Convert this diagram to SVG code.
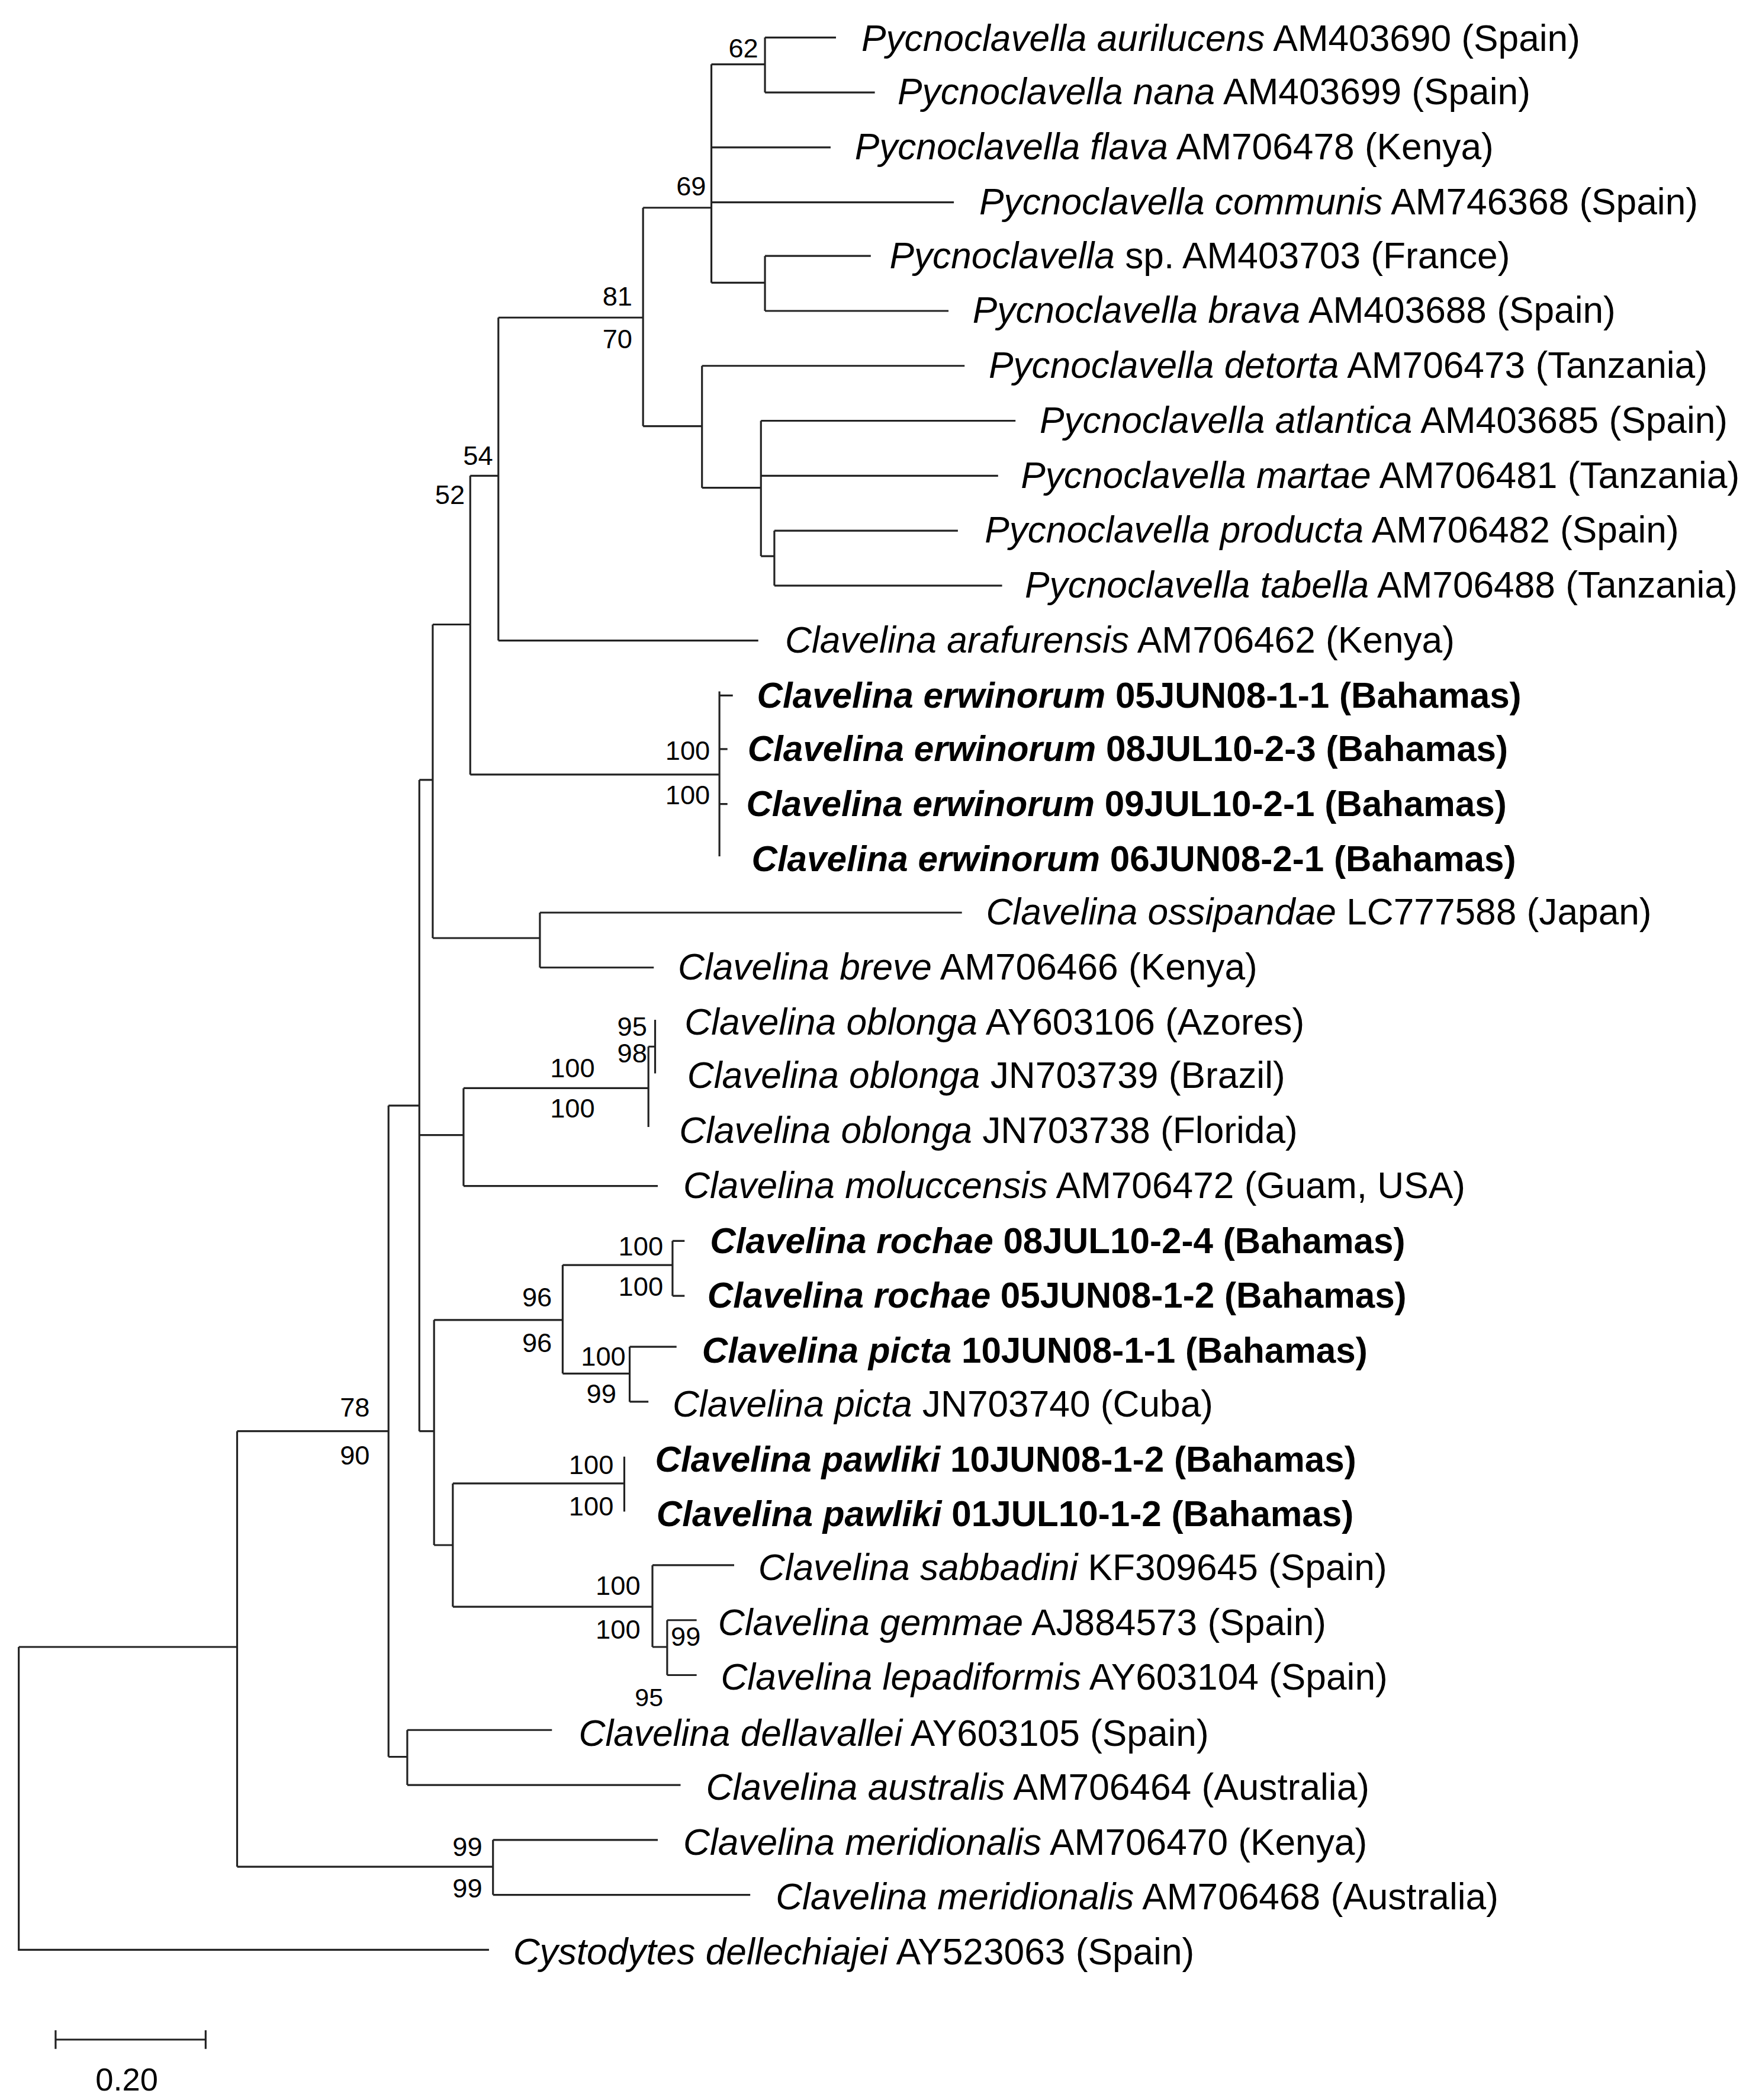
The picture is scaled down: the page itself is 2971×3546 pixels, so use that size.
<svg xmlns="http://www.w3.org/2000/svg" width="2971" height="3546" viewBox="0 0 2971 3546">
<style>
.l{font-family:"Liberation Sans",Arial,sans-serif;font-size:27.5px;fill:#000}
.b{font-weight:bold;font-size:26.6px}
.i{font-style:italic}
.n{font-family:"Liberation Sans",Arial,sans-serif;font-size:20px;fill:#000;text-anchor:end}
.e{fill:none;stroke:#222;stroke-width:1.4}
</style>
<rect width="2971" height="3546" fill="#fff"/>
<g transform="scale(2.2628)">
<g id="connectors" class="e">
<path d="M14 1229V1455H365M14 1229H177"/>
<path d="M177 1068V1393M177 1068H290M177 1393H368"/>
<path d="M368 1373V1414M368 1373H491M368 1414H560"/>
<path d="M290 825V1311M290 825H313M290 1311H304"/>
<path d="M304 1291V1332M304 1291H412M304 1332H508"/>
<path d="M313 582V1068M313 582H323M313 847H346M313 1068H324"/>
<path d="M323 466V700M323 466H351M323 700H403"/>
<path d="M403 681V722M403 681H718M403 722H488"/>
<path d="M351 355V578M351 355H372M351 578H537"/>
<path d="M537 516V639M537 519H547M537 559H543M537 600H543"/>
<path d="M372 237V478M372 237H480M372 478H566"/>
<path d="M480 155V318M480 155H531M480 318H524"/>
<path d="M531 48V211M531 48H571M531 110H620M531 151H712M531 211H571"/>
<path d="M571 28V69M571 28H624M571 69H653"/>
<path d="M571 191V232M571 191H650M571 232H708"/>
<path d="M524 273V364M524 273H720M524 364H568"/>
<path d="M568 314V415M568 314H758M568 355H745M568 415H578"/>
<path d="M578 396V437M578 396H715M578 437H748"/>
<path d="M346 812V885M346 812H484M346 885H491"/>
<path d="M484 781V841M484 781H489"/>
<path d="M489 761V801"/>
<path d="M324 985V1153M324 985H420M324 1153H338"/>
<path d="M420 944V1025M420 944H502M420 1025H470"/>
<path d="M502 926V967M502 926H511M502 967H511"/>
<path d="M470 1005V1046M470 1005H505M470 1046H484"/>
<path d="M338 1107V1199M338 1107H466M338 1199H487"/>
<path d="M466 1087V1128"/>
<path d="M487 1168V1229M487 1168H548M487 1229H498"/>
<path d="M498 1209V1250M498 1209H520M498 1250H520"/>
<path d="M41.5 1522H153.5M41.5 1515V1529M153.5 1515V1529"/>
</g>
<g id="leaves" class="l">
<text x="643" y="38"><tspan class="i">Pycnoclavella aurilucens</tspan> AM403690 (Spain)</text>
<text x="670" y="78"><tspan class="i">Pycnoclavella nana</tspan> AM403699 (Spain)</text>
<text x="638" y="119"><tspan class="i">Pycnoclavella flava</tspan> AM706478 (Kenya)</text>
<text x="731" y="160"><tspan class="i">Pycnoclavella communis</tspan> AM746368 (Spain)</text>
<text x="664" y="200"><tspan class="i">Pycnoclavella</tspan> sp. AM403703 (France)</text>
<text x="726" y="241"><tspan class="i">Pycnoclavella brava</tspan> AM403688 (Spain)</text>
<text x="738" y="282"><tspan class="i">Pycnoclavella detorta</tspan> AM706473 (Tanzania)</text>
<text x="776" y="323"><tspan class="i">Pycnoclavella atlantica</tspan> AM403685 (Spain)</text>
<text x="762" y="364"><tspan class="i">Pycnoclavella martae</tspan> AM706481 (Tanzania)</text>
<text x="735" y="405"><tspan class="i">Pycnoclavella producta</tspan> AM706482 (Spain)</text>
<text x="765" y="446"><tspan class="i">Pycnoclavella tabella</tspan> AM706488 (Tanzania)</text>
<text x="586" y="487"><tspan class="i">Clavelina arafurensis</tspan> AM706462 (Kenya)</text>
<text class="b" x="565" y="528"><tspan class="i">Clavelina erwinorum</tspan> 05JUN08-1-1 (Bahamas)</text>
<text class="b" x="558" y="568"><tspan class="i">Clavelina erwinorum</tspan> 08JUL10-2-3 (Bahamas)</text>
<text class="b" x="557" y="609"><tspan class="i">Clavelina erwinorum</tspan> 09JUL10-2-1 (Bahamas)</text>
<text class="b" x="561" y="650"><tspan class="i">Clavelina erwinorum</tspan> 06JUN08-2-1 (Bahamas)</text>
<text x="736" y="690"><tspan class="i">Clavelina ossipandae</tspan> LC777588 (Japan)</text>
<text x="506" y="731"><tspan class="i">Clavelina breve</tspan> AM706466 (Kenya)</text>
<text x="511" y="772"><tspan class="i">Clavelina oblonga</tspan> AY603106 (Azores)</text>
<text x="513" y="812"><tspan class="i">Clavelina oblonga</tspan> JN703739 (Brazil)</text>
<text x="507" y="853"><tspan class="i">Clavelina oblonga</tspan> JN703738 (Florida)</text>
<text x="510" y="894"><tspan class="i">Clavelina moluccensis</tspan> AM706472 (Guam, USA)</text>
<text class="b" x="530" y="935"><tspan class="i">Clavelina rochae</tspan> 08JUL10-2-4 (Bahamas)</text>
<text class="b" x="528" y="976"><tspan class="i">Clavelina rochae</tspan> 05JUN08-1-2 (Bahamas)</text>
<text class="b" x="524" y="1017"><tspan class="i">Clavelina picta</tspan> 10JUN08-1-1 (Bahamas)</text>
<text x="502" y="1057"><tspan class="i">Clavelina picta</tspan> JN703740 (Cuba)</text>
<text class="b" x="489" y="1098"><tspan class="i">Clavelina pawliki</tspan> 10JUN08-1-2 (Bahamas)</text>
<text class="b" x="490" y="1139"><tspan class="i">Clavelina pawliki</tspan> 01JUL10-1-2 (Bahamas)</text>
<text x="566" y="1179"><tspan class="i">Clavelina sabbadini</tspan> KF309645 (Spain)</text>
<text x="536" y="1220"><tspan class="i">Clavelina gemmae</tspan> AJ884573 (Spain)</text>
<text x="538" y="1261"><tspan class="i">Clavelina lepadiformis</tspan> AY603104 (Spain)</text>
<text x="432" y="1303"><tspan class="i">Clavelina dellavallei</tspan> AY603105 (Spain)</text>
<text x="527" y="1343"><tspan class="i">Clavelina australis</tspan> AM706464 (Australia)</text>
<text x="510" y="1384"><tspan class="i">Clavelina meridionalis</tspan> AM706470 (Kenya)</text>
<text x="579" y="1425"><tspan class="i">Clavelina meridionalis</tspan> AM706468 (Australia)</text>
<text x="383" y="1466"><tspan class="i">Cystodytes dellechiajei</tspan> AY523063 (Spain)</text>
</g>
<g id="support" class="n">
<text x="566" y="43">62</text>
<text x="527" y="146">69</text>
<text x="472" y="228">81</text><text x="472" y="260">70</text>
<text x="368" y="347">54</text><text x="347" y="376">52</text>
<text x="530" y="567">100</text><text x="530" y="600">100</text>
<text x="483" y="773">95</text><text x="483" y="793">98</text>
<text x="444" y="804">100</text><text x="444" y="834">100</text>
<text x="495" y="937">100</text><text x="495" y="967">100</text>
<text x="412" y="975">96</text><text x="412" y="1009">96</text>
<text x="467" y="1019">100</text><text x="460" y="1047">99</text>
<text x="276" y="1057">78</text><text x="276" y="1093">90</text>
<text x="458" y="1100">100</text><text x="458" y="1131">100</text>
<text x="478" y="1190">100</text><text x="478" y="1223">100</text>
<text x="523" y="1228">99</text><text x="495" y="1273" style="font-size:19px">95</text>
<text x="360" y="1385">99</text><text x="360" y="1416">99</text>
<text x="118" y="1560" style="font-size:24px">0.20</text>
</g>
</g>
</svg>
